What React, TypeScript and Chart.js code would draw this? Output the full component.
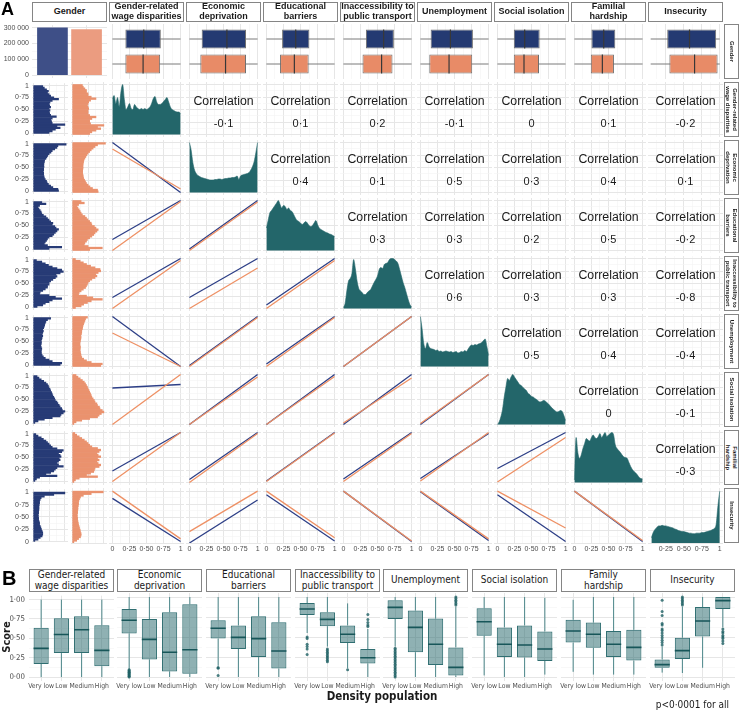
import React, { useEffect, useRef } from "react";
import { Chart, registerables } from "chart.js";

Chart.register(...registerables);

const SANS = "'Liberation Sans', Arial, Helvetica, sans-serif";
const COND = "'DejaVu Sans Condensed', 'Liberation Sans Narrow', 'DejaVu Sans', sans-serif";
Chart.defaults.font.family = SANS;

function measureText(font: string, text: string) {
  const ctx = document.createElement("canvas").getContext("2d") as CanvasRenderingContext2D;
  ctx.font = font;
  return ctx.measureText(text).width;
}
// size the condensed tick font so that "Very low" is about 26px wide, whatever face is found
const B_TICK_SIZE = Math.max(6.8, Math.min(9, (10 * 26) / Math.max(1, measureText(`condensed 10px ${COND}`, "Very low"))));

// ================= DATA =================
const STRIP_TOP_A = [["Gender"], ["Gender-related", "wage disparities"], ["Economic", "deprivation"], ["Educational", "barriers"], ["Inaccessibility to", "public transport"], ["Unemployment"], ["Social isolation"], ["Familial", "hardship"], ["Insecurity"]];

const GENDER_X = [0, 1];
const GENDER_COUNTS = [301000, 289000];
const COUNT_TICKS = [0, 100000, 200000, 300000];
const COUNT_MINOR = [50000, 150000, 250000];
const UNIT_MAJOR = [0, 0.25, 0.5, 0.75, 1];
const UNIT_MINOR = [0.125, 0.375, 0.625, 0.875];

// top-row box plots (blue group on top, orange group below), per variable
const BOX_BLUE_Q1 = [0.19, 0.18, 0.23, 0.33, 0.15, 0.24, 0.25, 0.27];
const BOX_BLUE_MED = [0.46, 0.55, 0.43, 0.59, 0.44, 0.40, 0.43, 0.58];
const BOX_BLUE_Q3 = [0.71, 0.83, 0.63, 0.74, 0.77, 0.62, 0.60, 0.95];
const BOX_ORANGE_Q1 = [0.19, 0.16, 0.20, 0.28, 0.13, 0.24, 0.24, 0.30];
const BOX_ORANGE_MED = [0.45, 0.53, 0.41, 0.56, 0.42, 0.39, 0.41, 0.65];
const BOX_ORANGE_Q3 = [0.70, 0.83, 0.62, 0.72, 0.76, 0.61, 0.58, 0.97];
const BOX_WHISK_LO = [0, 0, 0, 0, 0, 0, 0, 0.04];
const BOX_WHISK_HI = [1, 1, 1, 1, 1, 1, 1, 1];

// correlations (upper triangle), row i vs columns i+1..8
const CORR = [
  [-0.1, 0.1, 0.2, -0.1, 0, 0.1, -0.2],
  [0.4, 0.1, 0.5, 0.3, 0.4, 0.1],
  [0.3, 0.3, 0.2, 0.5, -0.2],
  [0.6, 0.3, 0.3, -0.8],
  [0.5, 0.4, -0.4],
  [0, -0.1],
  [-0.3],
];

// fitted lines (lower triangle): [value at x=0, value at x=1]
const FIT_BLUE = [
  [[1, 0]],
  [[0.22, 1], [0.03, 1]],
  [[0.22, 1], [0.22, 1], [0.07, 1]],
  [[1, 0], [0.02, 1], [0.05, 1], [0, 1]],
  [[0.73, 0.8], [0, 1], [0, 1], [0, 1], [0, 1]],
  [[0.23, 1], [0.06, 1], [0.03, 1], [0.07, 1], [0.08, 0.98], [0.28, 1]],
  [[0.86, 0.03], [0, 0.83], [0.93, 0.04], [1, 0.03], [0.99, 0.05], [0.93, 0.03], [1, 0.03]],
];
const FIT_ORANGE = [
  [[0.87, 0.07]],
  [[0, 0.98], [0, 0.97]],
  [[0, 0.96], [0, 0.81], [0, 0.96]],
  [[0.67, 0], [0, 0.98], [0, 0.98], [0, 1]],
  [[0, 1], [0, 0.95], [0, 0.96], [0.03, 0.93], [0.02, 1]],
  [[0.02, 1], [0, 0.98], [0.02, 0.99], [0.02, 0.98], [0.03, 1], [0.01, 0.9]],
  [[1, 0.08], [0.22, 1], [1, 0.1], [1, 0.04], [1, 0.08], [1, 0.29], [1, 0.05]],
];

// densities (diagonal)
const DENS_X = [0, 0.025, 0.05, 0.075, 0.1, 0.125, 0.15, 0.175, 0.2, 0.225, 0.25, 0.275, 0.3, 0.325, 0.35, 0.375, 0.4, 0.425, 0.45, 0.475, 0.5, 0.525, 0.55, 0.575, 0.6, 0.625, 0.65, 0.675, 0.7, 0.725, 0.75, 0.775, 0.8, 0.825, 0.85, 0.875, 0.9, 0.925, 0.95, 0.975, 1];
const DENS_WAGE = [0.72, 0.78, 0.62, 0.74, 0.56, 0.85, 1.0, 0.7, 0.5, 0.55, 0.62, 0.52, 0.5, 0.6, 0.55, 0.52, 0.5, 0.52, 0.5, 0.52, 0.5, 0.52, 0.55, 0.62, 0.72, 0.76, 0.65, 0.6, 0.6, 0.62, 0.66, 0.7, 0.74, 0.65, 0.55, 0.5, 0.48, 0.46, 0.45, 0.45, 0.42];
const DENS_ECON = [1.0, 0.85, 0.6, 0.45, 0.38, 0.34, 0.32, 0.3, 0.29, 0.28, 0.27, 0.26, 0.25, 0.25, 0.25, 0.26, 0.26, 0.27, 0.27, 0.26, 0.27, 0.28, 0.28, 0.29, 0.29, 0.3, 0.3, 0.31, 0.33, 0.26, 0.33, 0.35, 0.36, 0.37, 0.38, 0.4, 0.45, 0.52, 0.62, 0.8, 1.0];
const DENS_EDU = [0.45, 0.6, 0.75, 0.8, 0.85, 0.9, 0.95, 1.0, 0.92, 0.85, 0.9, 0.88, 0.82, 0.85, 0.8, 0.78, 0.72, 0.65, 0.6, 0.58, 0.55, 0.52, 0.55, 0.58, 0.55, 0.5, 0.48, 0.5, 0.55, 0.6, 0.52, 0.45, 0.42, 0.4, 0.38, 0.36, 0.35, 0.33, 0.32, 0.3, 0.28];
const DENS_TRANSPORT = [0.02, 0.1, 0.35, 0.55, 0.6, 0.7, 0.98, 0.8, 0.55, 0.4, 0.35, 0.32, 0.28, 0.28, 0.32, 0.35, 0.38, 0.45, 0.52, 0.58, 0.65, 0.78, 0.82, 0.8, 0.88, 0.9, 0.92, 0.98, 1.0, 1.0, 0.98, 0.95, 0.9, 0.78, 0.65, 0.52, 0.42, 0.3, 0.18, 0.08, 0.03];
const DENS_UNEMP = [1.0, 0.75, 0.45, 0.36, 0.48, 0.4, 0.36, 0.35, 0.34, 0.32, 0.33, 0.3, 0.31, 0.29, 0.3, 0.31, 0.3, 0.29, 0.3, 0.28, 0.29, 0.3, 0.27, 0.28, 0.3, 0.29, 0.32, 0.3, 0.35, 0.4, 0.43, 0.42, 0.44, 0.43, 0.45, 0.46, 0.48, 0.52, 0.55, 0.4, 0.22];
const DENS_SOCIAL = [0.0, 0.05, 0.15, 0.3, 0.55, 0.75, 0.92, 0.88, 0.95, 1.0, 0.95, 0.9, 0.85, 0.8, 0.78, 0.74, 0.71, 0.68, 0.62, 0.6, 0.56, 0.55, 0.52, 0.5, 0.47, 0.45, 0.46, 0.48, 0.47, 0.44, 0.41, 0.37, 0.33, 0.3, 0.27, 0.25, 0.26, 0.28, 0.26, 0.18, 0.08];
const DENS_FAMILIAL = [0.05, 0.9, 0.6, 0.48, 0.55, 0.68, 0.78, 0.88, 0.85, 0.83, 0.9, 0.95, 0.9, 0.88, 0.92, 0.98, 0.9, 0.95, 1.0, 0.92, 0.95, 0.98, 1.0, 0.95, 0.75, 0.68, 0.64, 0.6, 0.55, 0.51, 0.5, 0.48, 0.4, 0.32, 0.26, 0.22, 0.19, 0.15, 0.1, 0.08, 0.07];
const DENS_INSEC = [null, null, 0.1, 0.2, 0.26, 0.3, 0.33, 0.33, 0.34, 0.33, 0.33, 0.32, 0.31, 0.3, 0.29, 0.27, 0.26, 0.24, 0.23, 0.22, 0.22, 0.21, 0.2, 0.19, 0.19, 0.18, 0.18, 0.19, 0.19, 0.19, 0.2, 0.2, 0.21, 0.22, 0.23, 0.24, 0.26, 0.28, 0.36, 0.72, 1.0];
const DENSITIES = [DENS_WAGE, DENS_ECON, DENS_EDU, DENS_TRANSPORT, DENS_UNEMP, DENS_SOCIAL, DENS_FAMILIAL, DENS_INSEC];

// histograms (first column), 30 bins from 0 to 1
const BIN_MID = [0.0167, 0.05, 0.0833, 0.1167, 0.15, 0.1833, 0.2167, 0.25, 0.2833, 0.3167, 0.35, 0.3833, 0.4167, 0.45, 0.4833, 0.5167, 0.55, 0.5833, 0.6167, 0.65, 0.6833, 0.7167, 0.75, 0.7833, 0.8167, 0.85, 0.8833, 0.9167, 0.95, 0.9833];
const HIST_BLUE = [
  [0.5, 0.6, 0.7, 0.85, 0.75, 1.0, 0.6, 0.58, 0.55, 0.6, 0.73, 0.55, 0.52, 0.5, 0.53, 0.5, 0.55, 0.52, 0.5, 0.53, 0.6, 0.8, 0.65, 0.55, 0.5, 0.45, 0.48, 0.42, 0.35, 0.3],
  [0.8, 0.78, 0.62, 0.55, 0.48, 0.44, 0.42, 0.38, 0.35, 0.34, 0.33, 0.33, 0.32, 0.33, 0.33, 0.34, 0.33, 0.34, 0.35, 0.36, 0.4, 0.43, 0.46, 0.5, 0.56, 0.6, 0.68, 0.75, 0.78, 1.04],
  [0.5, 0.9, 0.45, 0.35, 0.38, 0.42, 0.45, 0.5, 0.6, 0.65, 0.7, 0.75, 0.8, 0.72, 0.68, 0.6, 0.62, 0.55, 0.5, 0.45, 0.4, 0.32, 0.27, 0.25, 0.22, 0.18, 0.15, 0.2, 0.4, 0.27],
  [0.12, 0.3, 0.38, 0.5, 0.6, 0.9, 0.7, 0.5, 0.2, 0.22, 0.3, 0.38, 0.45, 0.45, 0.5, 0.5, 0.55, 0.62, 0.7, 0.75, 0.72, 0.85, 0.95, 0.9, 0.75, 0.6, 0.48, 0.38, 0.27, 0.1],
  [0.85, 0.9, 0.6, 0.5, 0.38, 0.32, 0.28, 0.26, 0.25, 0.26, 0.27, 0.25, 0.24, 0.25, 0.26, 0.25, 0.27, 0.28, 0.3, 0.28, 0.3, 0.32, 0.3, 0.33, 0.35, 0.36, 0.38, 0.4, 0.45, 0.55],
  [0.05, 0.15, 0.35, 0.6, 0.85, 0.88, 0.95, 1.0, 0.92, 0.9, 0.85, 0.82, 0.78, 0.75, 0.7, 0.68, 0.65, 0.62, 0.6, 0.58, 0.55, 0.53, 0.5, 0.48, 0.45, 0.4, 0.33, 0.25, 0.18, 0.12],
  [0.05, 0.1, 0.2, 0.75, 0.4, 0.55, 0.65, 0.7, 0.75, 0.95, 0.8, 0.75, 0.8, 0.85, 0.82, 0.88, 0.85, 0.8, 0.9, 0.95, 0.75, 0.6, 0.55, 0.5, 0.45, 0.4, 0.32, 0.25, 0.15, 0.08],
  [0.05, 0.15, 0.22, 0.28, 0.3, 0.3, 0.28, 0.26, 0.24, 0.22, 0.2, 0.2, 0.18, 0.17, 0.17, 0.16, 0.16, 0.17, 0.17, 0.18, 0.18, 0.18, 0.19, 0.2, 0.2, 0.22, 0.25, 0.35, 0.65, 1.0],
];
const HIST_ORANGE = [
  [0.55, 0.62, 0.75, 0.9, 0.8, 1.0, 0.58, 0.55, 0.55, 0.62, 0.75, 0.55, 0.5, 0.5, 0.5, 0.52, 0.5, 0.48, 0.5, 0.52, 0.58, 0.75, 0.6, 0.5, 0.5, 0.45, 0.45, 0.4, 0.35, 0.32],
  [0.82, 0.8, 0.64, 0.56, 0.5, 0.45, 0.42, 0.39, 0.36, 0.35, 0.34, 0.33, 0.33, 0.33, 0.34, 0.34, 0.34, 0.35, 0.36, 0.37, 0.4, 0.43, 0.46, 0.5, 0.55, 0.6, 0.66, 0.72, 0.8, 1.05],
  [0.55, 0.95, 0.5, 0.38, 0.4, 0.45, 0.48, 0.55, 0.62, 0.68, 0.72, 0.78, 0.82, 0.75, 0.7, 0.62, 0.6, 0.55, 0.5, 0.45, 0.4, 0.32, 0.28, 0.25, 0.22, 0.18, 0.15, 0.2, 0.38, 0.28],
  [0.1, 0.28, 0.36, 0.48, 0.6, 0.95, 0.65, 0.45, 0.2, 0.22, 0.28, 0.35, 0.42, 0.45, 0.48, 0.5, 0.55, 0.62, 0.72, 0.78, 0.74, 0.82, 0.9, 0.88, 0.72, 0.58, 0.45, 0.35, 0.25, 0.1],
  [0.9, 0.95, 0.6, 0.45, 0.36, 0.3, 0.28, 0.27, 0.26, 0.25, 0.25, 0.26, 0.25, 0.24, 0.25, 0.26, 0.27, 0.28, 0.27, 0.29, 0.3, 0.3, 0.32, 0.33, 0.34, 0.36, 0.38, 0.4, 0.42, 0.48],
  [0.05, 0.12, 0.3, 0.55, 0.8, 0.85, 0.92, 1.0, 0.95, 0.88, 0.86, 0.8, 0.78, 0.72, 0.7, 0.66, 0.62, 0.6, 0.58, 0.55, 0.53, 0.5, 0.48, 0.45, 0.42, 0.38, 0.32, 0.25, 0.18, 0.12],
  [0.05, 0.1, 0.22, 0.8, 0.45, 0.58, 0.68, 0.7, 0.72, 0.85, 0.9, 0.82, 0.78, 0.85, 0.8, 0.9, 0.82, 0.78, 0.85, 0.9, 0.8, 0.62, 0.55, 0.5, 0.45, 0.38, 0.3, 0.22, 0.14, 0.08],
  [0.05, 0.14, 0.2, 0.26, 0.28, 0.28, 0.26, 0.25, 0.23, 0.22, 0.2, 0.19, 0.18, 0.17, 0.17, 0.16, 0.16, 0.17, 0.17, 0.18, 0.18, 0.19, 0.2, 0.2, 0.21, 0.23, 0.26, 0.35, 0.6, 0.98],
];

// Panel B: box plots by density of population
const B_STRIPS = [["Gender-related", "wage disparities"], ["Economic", "deprivation"], ["Educational", "barriers"], ["Inaccessibility to", "public transport"], ["Unemployment"], ["Social isolation"], ["Family", "hardship"], ["Insecurity"]];
const B_CATS = ["Very low", "Low", "Medium", "High"];
const B_Q1 = [[0.17, 0.31, 0.31, 0.14], [0.545, 0.22, 0.07, 0.04], [0.48, 0.35, 0.25, 0.105], [0.775, 0.635, 0.425, 0.17], [0.725, 0.31, 0.15, 0.02], [0.515, 0.25, 0.245, 0.2], [0.43, 0.365, 0.25, 0.205], [0.115, 0.225, 0.505, 0.85]];
const B_MED = [[0.37, 0.55, 0.61, 0.345], [0.71, 0.47, 0.31, 0.34], [0.61, 0.495, 0.48, 0.325], [0.85, 0.72, 0.535, 0.24], [0.87, 0.62, 0.41, 0.12], [0.69, 0.41, 0.40, 0.35], [0.575, 0.535, 0.41, 0.37], [0.155, 0.33, 0.70, 0.955]];
const B_Q3 = [[0.635, 0.76, 0.785, 0.67], [0.85, 0.725, 0.81, 0.91], [0.71, 0.645, 0.76, 0.685], [0.925, 0.81, 0.645, 0.35], [0.96, 0.83, 0.73, 0.37], [0.86, 0.62, 0.645, 0.57], [0.715, 0.68, 0.575, 0.59], [0.22, 0.49, 0.875, 1.0]];
const B_LO = [[0, 0, 0, 0], [0.1, 0, 0, 0], [0.14, 0, 0, 0], [0.55, 0.38, 0.11, 0], [0.38, 0, 0, 0], [0.02, 0, 0, 0.03], [0.065, 0.03, 0.03, 0.03], [0.055, 0.05, 0.115, 0.62]];
const B_HI = [[1, 1, 1, 1], [1, 1, 1, 1], [1, 1, 1, 1], [1, 1, 0.92, 0.6], [1, 1, 1, 0.88], [1, 1, 1, 0.99], [0.965, 1, 1, 1], [0.38, 0.88, 1, 1]];
const B_OUT = [
  [[], [], [], []],
  [[0, 0.01, 0.02, 0.03, 0.04, 0.05, 0.06, 0.07, 0.08, 0.09], [], [], []],
  [[0.12, 0.11, 0.02], [], [], []],
  [[0.5, 0.48, 0.41, 0.38, 0.35, 0.28], [0.35, 0.33, 0.31, 0.29, 0.27, 0.25, 0.23, 0.21, 0.19], [0.09], [0.63, 0.65, 0.68, 0.72, 0.78]],
  [[0.36, 0.34, 0.32, 0.3, 0.28, 0.26, 0.24, 0.22, 0.2, 0.18, 0.16, 0.14, 0.12, 0.1, 0.08, 0.06, 0.04, 0.02, 0], [], [], [0.9, 0.92, 0.94, 0.96, 0.98, 1]],
  [[], [], [], []],
  [[], [], [], []],
  [[0.4, 0.43, 0.46, 0.49, 0.52, 0.55, 0.58, 0.6, 0.65, 0.67, 0.77, 0.82, 0.96], [0.9, 0.92, 0.94, 0.96, 0.98, 1], [], [0.6, 0.57, 0.55, 0.52, 0.5, 0.48, 0.45, 0.42]],
];

// ================= STYLE / LAYOUT =================
const BAR_BLUE = "#3e4f87";
const BAR_ORANGE = "#eb9c80";
const BOX_BLUE = "#243a72";
const BOX_ORANGE = "#e88b67";
const HIST_BLUE_C = "#273b76";
const HIST_ORANGE_C = "#ea926e";
const LINE_BLUE = "#2c3e86";
const LINE_ORANGE = "#ee9064";
const TEAL = "#23666a";
const B_FILL = "rgba(40,106,110,0.52)";
const B_EDGE = "#2f6e71";
const B_WHISK = "#4b8689";
const B_MED_C = "#175659";
const B_PT = "rgba(30,96,100,0.8)";
const MAJOR_GRID = "#e6e6e6";
const MINOR_GRID = "#f3f3f3";

const COL_L = (c: number) => 32 + 77 * c;
const COL_W = 75;
const ROW_T = (r: number) => 24 + 58 * r;
const ROW_H = 55;
const AX_W = 30;
const AX_H = 12;
const M = 6;
const HIST_W = 36;
const HIST_GAP = 3;
const B_L = [29, 117, 206, 295, 383, 472, 561, 650];
const B_W = 85;
const B_T = 593;
const B_H = 88;

const fmtUnit = (v: number) => (v === 0 ? "0" : v === 1 ? "1" : v.toFixed(2).replace(".", "·"));
const fmtScore = (v: number) => v.toFixed(2).replace(".", "·");
const fmtCount = (v: number) => (v === 0 ? "0" : `${Math.round(v / 1000)} 000`);
const fmtCorr = (v: number) => (v === 0 ? "0" : v.toFixed(1).replace(".", "·"));

function linAxis(o: any) {
  const vals = [...o.major, ...(o.minor || [])]
    .filter((v: number) => v >= o.min - 1e-9 && v <= o.max + 1e-9)
    .sort((a: number, b: number) => a - b);
  const isMajor = (v: number) => o.major.includes(v);
  return {
    type: "linear",
    position: o.pos === "x" ? "bottom" : "left",
    min: o.min,
    max: o.max,
    offset: false,
    afterBuildTicks: (s: any) => {
      s.ticks = vals.map((v: number) => ({ value: v }));
    },
    afterFit: (s: any) => {
      const size = o.size !== undefined ? o.size : 0;
      if (o.pos === "x") s.height = size;
      else s.width = size;
    },
    grid: {
      display: o.grid !== false,
      offset: false,
      drawTicks: false,
      color: (c: any) => (c.tick && isMajor(c.tick.value) ? MAJOR_GRID : MINOR_GRID),
      lineWidth: (c: any) => (c.tick && isMajor(c.tick.value) ? 1 : 0.6),
    },
    border: { display: false },
    ticks: {
      display: !!o.labels,
      autoSkip: false,
      maxRotation: 0,
      minRotation: 0,
      padding: o.padding !== undefined ? o.padding : 3,
      color: "#4d4d4d",
      font: o.font || { family: SANS, size: 7 },
      callback: (v: any) => (isMajor(v) && o.fmt ? o.fmt(v) : ""),
    },
  };
}

function base(scales: any) {
  return {
    responsive: false,
    maintainAspectRatio: false,
    animation: false,
    events: [],
    layout: { padding: M },
    plugins: { legend: { display: false }, tooltip: { enabled: false }, title: { display: false } },
    scales,
  };
}

const rowRange = (r: number) => (r === 8 ? [0, 1.06] : [-0.05, 1.05]);
const colRange = (c: number) => (c === 8 ? [0.003, 1.045] : [-0.05, 1.05]);

function rowAxis(r: number, labels: boolean) {
  const [min, max] = rowRange(r);
  return linAxis({ pos: "y", min, max, major: UNIT_MAJOR, minor: UNIT_MINOR, labels, fmt: fmtUnit, size: labels ? AX_W : undefined });
}
function colAxis(c: number, labels: boolean) {
  const [min, max] = colRange(c);
  return linAxis({ pos: "x", min, max, major: UNIT_MAJOR, minor: UNIT_MINOR, labels, fmt: fmtUnit, size: labels ? AX_H : undefined, padding: 2 });
}

function genderBarConfig() {
  return {
    type: "bar",
    data: {
      datasets: [
        {
          data: GENDER_X.map((x, i) => ({ x, y: GENDER_COUNTS[i] })),
          backgroundColor: [BAR_BLUE, BAR_ORANGE],
          borderWidth: 0,
          barPercentage: 0.9,
          categoryPercentage: 1,
        },
      ],
    },
    options: base({
      x: linAxis({ pos: "x", min: -0.6, max: 1.6, major: GENDER_X }),
      y: linAxis({ pos: "y", min: -15000, max: 315000, major: COUNT_TICKS, minor: COUNT_MINOR, labels: true, fmt: fmtCount, size: AX_W }),
    }),
  };
}

function topBoxConfig(v: number) {
  const lo = BOX_WHISK_LO[v];
  const hi = BOX_WHISK_HI[v];
  const whisk = { type: "line", borderColor: "#7b7b7b", borderWidth: 1, pointRadius: 0, order: 3 };
  const med = { type: "line", borderColor: "#383838", borderWidth: 1.2, pointRadius: 0, order: 1 };
  return {
    type: "bar",
    data: {
      datasets: [
        {
          type: "bar",
          indexAxis: "y",
          data: [
            { y: 1, x: [BOX_BLUE_Q1[v], BOX_BLUE_Q3[v]] },
            { y: 0, x: [BOX_ORANGE_Q1[v], BOX_ORANGE_Q3[v]] },
          ],
          backgroundColor: [BOX_BLUE, BOX_ORANGE],
          borderColor: "#6f6f6f",
          borderWidth: 1,
          borderSkipped: false,
          barPercentage: 0.76,
          categoryPercentage: 1,
          order: 2,
        },
        { ...whisk, data: [{ x: lo, y: 1 }, { x: hi, y: 1 }] },
        { ...whisk, data: [{ x: lo, y: 0 }, { x: hi, y: 0 }] },
        { ...med, data: [{ x: BOX_BLUE_MED[v], y: 0.62 }, { x: BOX_BLUE_MED[v], y: 1.38 }] },
        { ...med, data: [{ x: BOX_ORANGE_MED[v], y: -0.38 }, { x: BOX_ORANGE_MED[v], y: 0.38 }] },
      ],
    },
    options: base({
      x: colAxis(v + 1, false),
      y: linAxis({ pos: "y", min: -0.6, max: 1.6, major: [0, 1], grid: false }),
    }),
  };
}

function histConfig(v: number, g: number, labels: boolean) {
  const vals = g === 0 ? HIST_BLUE[v] : HIST_ORANGE[v];
  return {
    type: "bar",
    data: {
      datasets: [
        {
          indexAxis: "y",
          data: BIN_MID.map((b, i) => ({ y: b, x: vals[i] })),
          backgroundColor: g === 0 ? HIST_BLUE_C : HIST_ORANGE_C,
          borderWidth: 0,
          barPercentage: 1,
          categoryPercentage: 1,
        },
      ],
    },
    options: base({
      x: linAxis({ pos: "x", min: -0.04, max: 1.1, major: [0, 0.5, 1], minor: [0.25, 0.75] }),
      y: rowAxis(v + 1, labels),
    }),
  };
}

function densityConfig(v: number, labels: boolean) {
  const r = v + 1;
  const ys = DENSITIES[v];
  const [min, max] = rowRange(r);
  return {
    type: "line",
    data: {
      datasets: [
        {
          data: DENS_X.map((x, i) => ({ x, y: ys[i] })),
          fill: "origin",
          backgroundColor: TEAL,
          borderColor: TEAL,
          borderWidth: 0.6,
          pointRadius: 0,
          tension: 0.3,
          cubicInterpolationMode: "monotone",
          spanGaps: false,
        },
      ],
    },
    options: base({
      x: colAxis(r, labels),
      y: linAxis({ pos: "y", min, max, major: UNIT_MAJOR, minor: UNIT_MINOR }),
    }),
  };
}

function fitConfig(r: number, c: number, labels: boolean) {
  const b = FIT_BLUE[r - 2][c - 1];
  const o = FIT_ORANGE[r - 2][c - 1];
  return {
    type: "line",
    data: {
      datasets: [
        { data: [{ x: 0, y: o[0] }, { x: 1, y: o[1] }], borderColor: LINE_ORANGE, borderWidth: 1.3, pointRadius: 0, order: 1 },
        { data: [{ x: 0, y: b[0] }, { x: 1, y: b[1] }], borderColor: LINE_BLUE, borderWidth: 1.3, pointRadius: 0, order: 2 },
      ],
    },
    options: base({ x: colAxis(c, labels), y: rowAxis(r, false) }),
  };
}

function emptyConfig(r: number, c: number) {
  return { type: "line", data: { datasets: [] }, options: base({ x: colAxis(c, false), y: rowAxis(r, false) }) };
}

function boxBConfig(f: number) {
  const q1 = B_Q1[f], q3 = B_Q3[f], md = B_MED[f], lo = B_LO[f], hi = B_HI[f];
  const whisk: any[] = [];
  const meds: any[] = [];
  const outs: any[] = [];
  B_CATS.forEach((_, i) => {
    const x = i + 1;
    whisk.push({ x, y: lo[i] }, { x, y: q1[i] }, { x, y: null }, { x, y: q3[i] }, { x, y: hi[i] }, { x, y: null });
    meds.push({ x: x - 0.375, y: md[i] }, { x: x + 0.375, y: md[i] }, { x, y: null });
    B_OUT[f][i].forEach((y: number) => outs.push({ x, y }));
  });
  const xFont = { family: COND, size: B_TICK_SIZE, weight: "condensed" };
  const yFont = { family: COND, size: 7.8, weight: "condensed" };
  return {
    type: "bar",
    data: {
      datasets: [
        {
          type: "bar",
          data: B_CATS.map((_, i) => ({ x: i + 1, y: [q1[i], q3[i]] })),
          backgroundColor: B_FILL,
          borderColor: B_EDGE,
          borderWidth: 1,
          borderSkipped: false,
          barPercentage: 0.75,
          categoryPercentage: 1,
          order: 3,
        },
        { type: "line", data: whisk, borderColor: B_WHISK, borderWidth: 1, pointRadius: 0, spanGaps: false, order: 4 },
        { type: "line", data: meds, borderColor: B_MED_C, borderWidth: 1.6, pointRadius: 0, spanGaps: false, order: 1 },
        { type: "scatter", data: outs, pointRadius: 1.5, backgroundColor: B_PT, pointBackgroundColor: B_PT, borderWidth: 0, pointBorderWidth: 0, order: 2 },
      ],
    },
    options: base({
      x: linAxis({ pos: "x", min: 0.4, max: 4.6, major: [1, 2, 3, 4], labels: true, fmt: (v: number) => B_CATS[v - 1], size: 12, padding: 1, font: xFont }),
      y: linAxis({ pos: "y", min: -0.05, max: 1.05, major: UNIT_MAJOR, minor: UNIT_MINOR, labels: f === 0, fmt: fmtScore, size: f === 0 ? 22 : undefined, padding: 4, font: yFont }),
    }),
  };
}

// ================= COMPONENTS =================
function Cell(props: any) {
  const { px, py, pw, ph, left = 0, bottom = 0, make } = props;
  const ref = useRef<HTMLCanvasElement | null>(null);
  useEffect(() => {
    const chart = new Chart(ref.current as HTMLCanvasElement, make());
    return () => chart.destroy();
  }, []);
  const x = px - M - left;
  const y = py - M;
  const w = pw + 2 * M + left;
  const h = ph + 2 * M + bottom;
  return <canvas ref={ref} width={w} height={h} style={{ position: "absolute", left: x, top: y, width: w, height: h }} />;
}

function Strip(props: any) {
  const { left, top, width, height, lines, font, size, weight, stretch } = props;
  return (
    <div
      style={{
        position: "absolute",
        left,
        top,
        width,
        height,
        boxSizing: "border-box",
        border: "1px solid #858585",
        background: "#fff",
        display: "flex",
        alignItems: "center",
        justifyContent: "center",
        textAlign: "center",
        fontFamily: font,
        fontWeight: weight,
        fontStretch: stretch || "normal",
        fontSize: size,
        lineHeight: `${size * 1.08}px`,
        color: "#1a1a1a",
        whiteSpace: "nowrap",
      }}
    >
      <div>
        {lines.map((l: string, i: number) => (
          <div key={i}>{l}</div>
        ))}
      </div>
    </div>
  );
}

function SideStrip(props: any) {
  const { top, lines } = props;
  const w = 15;
  return (
    <div style={{ position: "absolute", left: 724, top, width: w, height: ROW_H, boxSizing: "border-box", border: "1px solid #858585", background: "#fff" }}>
      <div
        style={{
          position: "absolute",
          left: (w - 2 - ROW_H) / 2,
          top: (ROW_H - 2 - w) / 2,
          width: ROW_H,
          height: w,
          transform: "rotate(90deg)",
          display: "flex",
          alignItems: "center",
          justifyContent: "center",
          textAlign: "center",
          fontFamily: SANS,
          fontWeight: 700,
          fontSize: 6,
          lineHeight: "6.4px",
          color: "#1a1a1a",
          whiteSpace: "nowrap",
        }}
      >
        <div>
          {lines.map((l: string, i: number) => (
            <div key={i}>{l}</div>
          ))}
        </div>
      </div>
    </div>
  );
}

export default function App() {
  const els: any[] = [];

  // ---- Panel A ----
  els.push(<Cell key="g00" px={COL_L(0)} py={ROW_T(0)} pw={COL_W} ph={ROW_H} left={AX_W} make={() => genderBarConfig()} />);
  for (let c = 1; c <= 8; c++) {
    els.push(<Cell key={`tb${c}`} px={COL_L(c)} py={ROW_T(0)} pw={COL_W} ph={ROW_H} make={() => topBoxConfig(c - 1)} />);
  }
  for (let r = 1; r <= 8; r++) {
    const v = r - 1;
    els.push(<Cell key={`hb${r}`} px={COL_L(0)} py={ROW_T(r)} pw={HIST_W} ph={ROW_H} left={AX_W} make={() => histConfig(v, 0, true)} />);
    els.push(<Cell key={`ho${r}`} px={COL_L(0) + HIST_W + HIST_GAP} py={ROW_T(r)} pw={HIST_W} ph={ROW_H} make={() => histConfig(v, 1, false)} />);
    for (let c = 1; c <= 8; c++) {
      const labels = r === 8;
      const bottom = labels ? AX_H : 0;
      if (c === r) {
        els.push(<Cell key={`d${r}`} px={COL_L(c)} py={ROW_T(r)} pw={COL_W} ph={ROW_H} bottom={bottom} make={() => densityConfig(v, labels)} />);
      } else if (c < r) {
        els.push(<Cell key={`f${r}_${c}`} px={COL_L(c)} py={ROW_T(r)} pw={COL_W} ph={ROW_H} bottom={bottom} make={() => fitConfig(r, c, labels)} />);
      } else {
        els.push(<Cell key={`e${r}_${c}`} px={COL_L(c)} py={ROW_T(r)} pw={COL_W} ph={ROW_H} make={() => emptyConfig(r, c)} />);
        const val = CORR[r - 1][c - r - 1];
        els.push(
          <div key={`ct${r}_${c}`} style={{ position: "absolute", left: COL_L(c), top: ROW_T(r) + 11, width: COL_W, textAlign: "center", fontFamily: SANS, fontSize: 12.3, lineHeight: "16px", color: "#1a1a1a" }}>
            Correlation
          </div>
        );
        els.push(
          <div key={`cv${r}_${c}`} style={{ position: "absolute", left: COL_L(c), top: ROW_T(r) + 34, width: COL_W, textAlign: "center", fontFamily: SANS, fontSize: 11, lineHeight: "14px", color: "#1a1a1a" }}>
            {fmtCorr(val)}
          </div>
        );
      }
    }
  }
  for (let c = 0; c <= 8; c++) {
    els.push(<Strip key={`st${c}`} left={COL_L(c)} top={2} width={COL_W} height={20} lines={STRIP_TOP_A[c]} font={SANS} size={9} weight={700} />);
  }
  for (let r = 0; r <= 8; r++) {
    els.push(<SideStrip key={`ss${r}`} top={ROW_T(r)} lines={STRIP_TOP_A[r]} />);
  }

  // ---- Panel B ----
  for (let f = 0; f < 8; f++) {
    els.push(<Cell key={`B${f}`} px={B_L[f]} py={B_T} pw={B_W} ph={B_H} left={f === 0 ? 22 : 0} bottom={12} make={() => boxBConfig(f)} />);
    els.push(<Strip key={`bs${f}`} left={B_L[f]} top={569} width={B_W} height={23} lines={B_STRIPS[f]} font={COND} size={10} weight={400} stretch="condensed" />);
  }

  return (
    <div style={{ position: "absolute", left: 0, top: 0, width: 740, height: 711, background: "#fff", overflow: "hidden" }}>
      {els}
      <div style={{ position: "absolute", left: 1, top: -1, fontFamily: SANS, fontWeight: 700, fontSize: 18, lineHeight: "20px", color: "#000" }}>A</div>
      <div style={{ position: "absolute", left: 2, top: 567, fontFamily: SANS, fontWeight: 700, fontSize: 20, lineHeight: "22px", color: "#000" }}>B</div>
      <div style={{ position: "absolute", left: 7 - 20, top: 637 - 7, width: 40, height: 14, transform: "rotate(-90deg)", textAlign: "center", fontFamily: COND, fontStretch: "condensed", fontWeight: 700, fontSize: 11, lineHeight: "14px", color: "#1a1a1a" }}>Score</div>
      <div style={{ position: "absolute", left: 282, top: 689, width: 200, textAlign: "center", fontFamily: COND, fontStretch: "condensed", fontWeight: 700, fontSize: 11.5, lineHeight: "14px", color: "#1a1a1a" }}>Density population</div>
      <div style={{ position: "absolute", left: 529, top: 698, width: 200, textAlign: "right", fontFamily: COND, fontStretch: "condensed", fontSize: 10, lineHeight: "14px", color: "#1a1a1a" }}>p&lt;0·0001 for all</div>
    </div>
  );
}
